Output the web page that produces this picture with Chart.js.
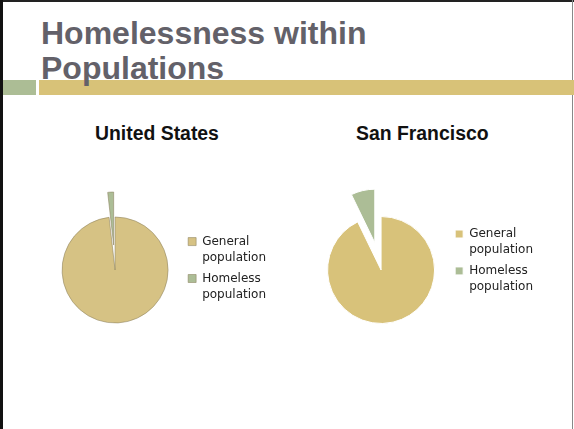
<!DOCTYPE html>
<html>
<head>
<meta charset="utf-8">
<script src="https://cdn.jsdelivr.net/npm/chart.js@4/dist/chart.umd.min.js"></script>
<style>
  html, body { margin:0; padding:0; background:#fff; }
  body { width:574px; height:429px; position:relative; overflow:hidden; }
  .frameL { position:absolute; left:0; top:0; width:3px; height:429px; background:#111; }
  .frameT { position:absolute; left:0; top:0; width:574px; height:2px; background:#222; }
  .frameR { position:absolute; left:572px; top:0; width:1px; height:429px; background:#888; }
  .bandG { position:absolute; left:3px; top:80px; width:33px; height:15px; background:#ACBD95; }
  .bandY { position:absolute; left:39px; top:80px; width:535px; height:15px; background:#D8C278; }
  .title { position:absolute; left:41px; top:16px; font-family:"Liberation Sans", Arial, sans-serif; font-weight:bold; font-size:32px; line-height:35px; color:#636169; white-space:nowrap; z-index:2; }
  .ctitle { position:absolute; top:124px; font-family:"Liberation Sans", Arial, sans-serif; font-weight:bold; font-size:19.4px; line-height:19px; color:#111; white-space:nowrap; }
  canvas { position:absolute; }
</style>
</head>
<body>
<div class="frameT"></div><div class="frameL"></div><div class="frameR"></div>
<div class="bandG"></div><div class="bandY"></div>
<div class="title">Homelessness within<br>Populations</div>
<div class="ctitle" style="left:95px;">United States</div>
<div class="ctitle" style="left:356px;">San Francisco</div>
<canvas id="us" width="229" height="180" style="left:47px; top:180px;"></canvas>
<canvas id="sf" width="231" height="150" style="left:312px; top:180px;"></canvas>
<script>
const categories = [['General', 'population'], ['Homeless', 'population']];
const usValues = [98.2, 1.8];
const sfValues = [92.8, 7.2];
const usExplode = [0, 25];
const sfExplode = [0, 28];

// Pull slices out of the pie along their bisector, keeping radius and angle.
const explodeSlices = {
  id: 'explodeSlices',
  afterDatasetsUpdate(chart, args, opts) {
    const dist = opts.distances || [];
    chart.getSortedVisibleDatasetMetas().forEach(meta => {
      meta.data.forEach((arc, i) => {
        const d = dist[i] || 0;
        if (!d) return;
        const mid = (arc.startAngle + arc.endAngle) / 2;
        arc.x += Math.cos(mid) * d;
        arc.y += Math.sin(mid) * d;
      });
    });
  }
};

function legendOpts(align) {
  return {
    position: 'right',
    align: align,
    labels: {
      boxWidth: 8, boxHeight: 8, padding: 5, color: '#222',
      font: { family: 'DejaVu Sans', size: 12, lineHeight: 1.33 }
    }
  };
}

new Chart(document.getElementById('us'), {
  type: 'pie',
  data: { labels: categories, datasets: [{
    data: usValues, backgroundColor: ['#D6C284', '#ACBD96'],
    borderColor: 'rgba(140,130,95,0.55)', borderWidth: 1,
    radius: 53, clip: false
  }]},
  options: { responsive: false, animation: false, cutout: '0%', layout: { padding: 0 },
    plugins: { legend: legendOpts('center'), tooltip: { enabled: false },
      explodeSlices: { distances: usExplode } } },
  plugins: [explodeSlices]
});

new Chart(document.getElementById('sf'), {
  type: 'pie',
  data: { labels: categories, datasets: [{
    data: sfValues, backgroundColor: ['#D8C27A', '#ACBD96'],
    borderColor: '#ffffff', borderWidth: 1,
    radius: 53.5, clip: false
  }]},
  options: { responsive: false, animation: false, cutout: '0%', layout: { padding: { top: 43, bottom: 13 } },
    plugins: { legend: legendOpts('start'), tooltip: { enabled: false },
      explodeSlices: { distances: sfExplode } } },
  plugins: [explodeSlices]
});
</script>
</body>
</html>
